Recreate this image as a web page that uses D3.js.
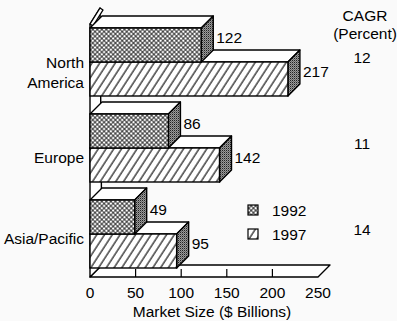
<!DOCTYPE html>
<html><head><meta charset="utf-8">
<script src="https://cdn.jsdelivr.net/npm/d3@7"></script>
<style>
html,body{margin:0;padding:0;background:#fafafa;}
svg{display:block;font-family:"Liberation Sans",Arial,Helvetica,sans-serif;}
</style></head>
<body>
<svg id="chart" width="397" height="321"></svg>
<script>
const categories = ["North America", "Europe", "Asia/Pacific"];
const categoryLines = [["North", "America"], ["Europe"], ["Asia/Pacific"]];
const years = ["1992", "1997"];
const values1992 = [122, 86, 49];
const values1997 = [217, 142, 95];
const cagr = [12, 11, 14];
const xTicks = [0, 50, 100, 150, 200, 250];

const svg = d3.select("#chart");
const W = 397, H = 321;
svg.append("rect").attr("width", W).attr("height", H).attr("fill", "#fafafa");

const x = d3.scaleLinear().domain([0, 250]).range([90, 318]);
const y = d3.scaleBand().domain(categories).range([19, 277]);
const barH = 34;
const sub = d3.scaleBand().domain(years).range([0, 2 * barH]);
const dx = 12, dy = -12;
const floorY = 277;
const fs = 15.5;

const defs = svg.append("defs");
// crosshatch
const ch = defs.append("pattern").attr("id", "cross").attr("patternUnits", "userSpaceOnUse")
  .attr("width", 3.2).attr("height", 3.2).attr("patternTransform", "rotate(45)");
ch.append("rect").attr("width", 3.2).attr("height", 3.2).attr("fill", "#fff");
ch.append("path").attr("d", "M0,0H3.2M0,0V3.2M0,3.2H3.2M3.2,0V3.2").attr("stroke", "#000").attr("stroke-width", 0.75);
// diagonal hatch
const hp = defs.append("pattern").attr("id", "hatch").attr("patternUnits", "userSpaceOnUse")
  .attr("width", 6.5).attr("height", 10).attr("patternTransform", "rotate(33)");
hp.append("rect").attr("width", 6.5).attr("height", 10).attr("fill", "#fff");
hp.append("line").attr("x1", 1).attr("x2", 1).attr("y1", 0).attr("y2", 10).attr("stroke", "#000").attr("stroke-width", 1.1);
// stipple for side faces
const sp = defs.append("pattern").attr("id", "stip").attr("patternUnits", "userSpaceOnUse")
  .attr("width", 2).attr("height", 2);
sp.append("rect").attr("width", 2).attr("height", 2).attr("fill", "#9a9a9a");
sp.append("rect").attr("width", 1).attr("height", 1).attr("fill", "#222");
sp.append("rect").attr("x", 1).attr("y", 1).attr("width", 1).attr("height", 1).attr("fill", "#6a6a6a");

const fills = {"1992": "url(#cross)", "1997": "url(#hatch)"};
const line = d3.line();
const sw = 1.4;

// floor
const x0 = x(0), xE = x(250);
svg.append("path")
  .attr("d", line([[x0, floorY], [xE, floorY], [xE + dx, floorY + dy], [x0 + dx, floorY + dy]]) + "Z")
  .attr("fill", "#fff").attr("stroke", "#000").attr("stroke-width", sw).attr("stroke-linejoin", "round");
svg.append("g").selectAll("line").data(xTicks.filter(t => t > 0 && t < 250)).join("line")
  .attr("x1", d => x(d)).attr("x2", d => x(d))
  .attr("y1", floorY).attr("y2", floorY - 8)
  .attr("stroke", "#000").attr("stroke-width", 1.2);

// wall
const wallTop = 24;
svg.append("path")
  .attr("d", line([[x0, wallTop], [x0 + 10, wallTop - 16], [x0 + dx, floorY + dy], [x0, floorY]]) + "Z")
  .attr("fill", "#fff").attr("stroke", "#000").attr("stroke-width", sw).attr("stroke-linejoin", "round");
svg.append("path")
  .attr("d", line([[x0, wallTop], [x0 + 10, wallTop - 16], [x0 + 13, wallTop - 14], [x0 + 3, wallTop + 2]]) + "Z")
  .attr("fill", "#fff").attr("stroke", "#000").attr("stroke-width", sw).attr("stroke-linejoin", "round");

// bars
function drawBox(g, v, yt, fill) {
  const x1 = x(v), yb = yt + barH;
  g.append("path")
    .attr("d", line([[x0, yt], [x0 + dx, yt + dy], [x1 + dx, yt + dy], [x1, yt]]) + "Z")
    .attr("fill", "#fff").attr("stroke", "#000").attr("stroke-width", sw).attr("stroke-linejoin", "round");
  g.append("path")
    .attr("d", line([[x1, yt], [x1 + dx, yt + dy], [x1 + dx, yb + dy], [x1, yb]]) + "Z")
    .attr("fill", "url(#stip)").attr("stroke", "#000").attr("stroke-width", sw).attr("stroke-linejoin", "round");
  g.append("rect").attr("x", x0).attr("y", yt).attr("width", x1 - x0).attr("height", barH)
    .attr("fill", fill).attr("stroke", "#000").attr("stroke-width", sw);
}
const bars = svg.append("g");
categories.forEach((c, i) => {
  const top = y(c) + y.bandwidth() / 2 - barH;
  const gy = bars.append("g");
  drawBox(gy, values1997[i], top + sub("1997"), fills["1997"]);
  drawBox(gy, values1992[i], top + sub("1992"), fills["1992"]);
  [["1992", values1992[i]], ["1997", values1997[i]]].forEach(([yr, v]) => {
    gy.append("text").attr("x", x(v) + dx + 3).attr("y", top + sub(yr) + barH / 2 - 8)
      .attr("dominant-baseline", "central").attr("font-size", fs).text(v);
  });
});

// category labels
const labelShift = [10, 9, 4];
categories.forEach((c, i) => {
  const cy = y(c) + y.bandwidth() / 2 + labelShift[i];
  const lines = categoryLines[i];
  const lh = 20;
  const t = svg.append("text").attr("text-anchor", "end").attr("font-size", fs);
  lines.forEach((l, k) => {
    t.append("tspan").attr("x", 84).attr("y", cy + (k - (lines.length - 1) / 2) * lh)
      .attr("dominant-baseline", "central").text(l);
  });
});

// x tick labels
svg.append("g").selectAll("text").data(xTicks).join("text")
  .attr("x", d => x(d)).attr("y", 292).attr("text-anchor", "middle")
  .attr("dominant-baseline", "central").attr("font-size", fs).text(d => d);
svg.append("text").attr("x", 212).attr("y", 311).attr("text-anchor", "middle")
  .attr("dominant-baseline", "central").attr("font-size", fs).text("Market Size ($ Billions)");

// CAGR column
svg.append("text").attr("x", 365).attr("y", 15).attr("text-anchor", "middle")
  .attr("dominant-baseline", "central").attr("font-size", fs).text("CAGR");
svg.append("text").attr("x", 365).attr("y", 33).attr("text-anchor", "middle")
  .attr("dominant-baseline", "central").attr("font-size", fs).text("(Percent)");
svg.append("g").selectAll("text").data(cagr).join("text")
  .attr("x", 362).attr("y", (d, i) => y(categories[i]) + y.bandwidth() / 2 - 5)
  .attr("text-anchor", "middle").attr("dominant-baseline", "central").attr("font-size", fs).text(d => d);

// legend
const leg = svg.append("g");
years.forEach((yr, i) => {
  const ly = 205 + i * 24;
  leg.append("rect").attr("x", 248).attr("y", ly).attr("width", 10).attr("height", 10)
    .attr("fill", fills[yr]).attr("stroke", "#000").attr("stroke-width", 1.2);
  leg.append("text").attr("x", 272).attr("y", ly + 5).attr("dominant-baseline", "central")
    .attr("font-size", fs).text(yr);
});
</script>
</body></html>
